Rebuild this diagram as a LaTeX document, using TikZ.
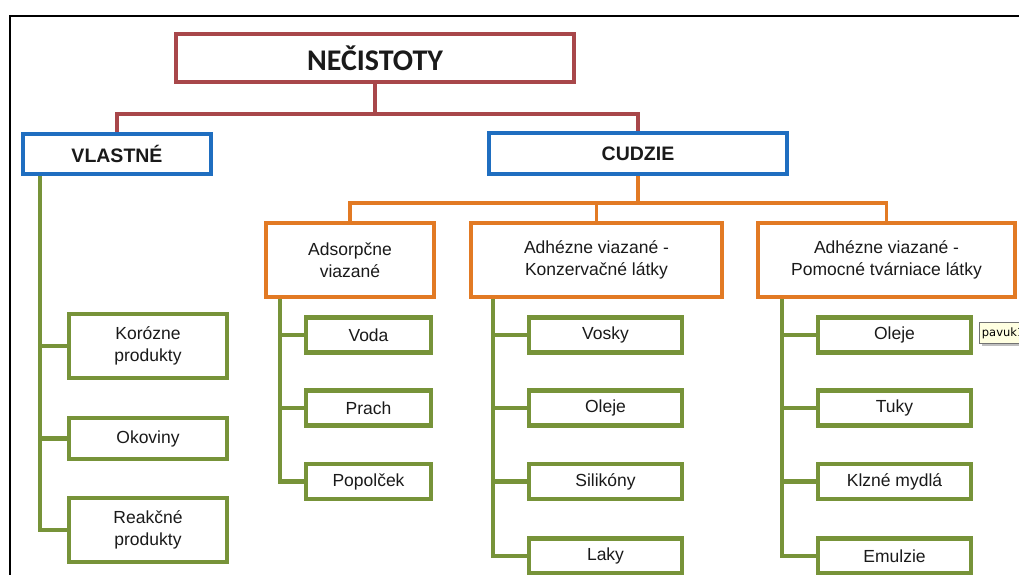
\documentclass[tikz,border=0pt]{standalone}
\usepackage{fontspec}
\usetikzlibrary{calc,backgrounds}
\setmainfont{Liberation Sans}
\newfontfamily\calibri{Carlito}
\newfontfamily\tipfont{DejaVu Sans}
\definecolor{cred}{HTML}{A8474A}
\definecolor{cblue}{HTML}{1F6EC0}
\definecolor{corange}{HTML}{E27A24}
\definecolor{cgreen}{HTML}{779339}
\definecolor{ctext}{HTML}{1A1A1A}
\definecolor{tipfill}{HTML}{FFFFE1}
\begin{document}
\begin{tikzpicture}[x=1pt,y=-1pt,
  basebox/.style={rectangle,fill=white,inner sep=0pt,align=center,text=ctext,font=\fontsize{17.5}{22}\selectfont},
  topbox/.style={basebox,draw=cred,line width=3.5pt,font=\calibri\bfseries\fontsize{30}{32}\selectfont},
  bluebox/.style={basebox,draw=cblue,line width=3.5pt,font=\bfseries\fontsize{19.5}{22}\selectfont},
  orbox/.style={basebox,draw=corange,line width=3.5pt},
  grbox/.style={basebox,draw=cgreen,line width=4.2pt},
  redline/.style={draw=cred,line width=3.5pt},
  orline/.style={draw=corange,line width=3.5pt},
  grline/.style={draw=cgreen,line width=4.2pt},
]
\useasboundingbox (0,0) rectangle (1019,574);
\clip (0,0) rectangle (1019,574);

% nodes
\node[topbox,minimum width=398pt,minimum height=48pt] (top) at (375,58) {NEČISTOTY};
\node[bluebox,minimum width=188pt,minimum height=40pt] (vl) at (117,154) {VLASTNÉ};
\node[bluebox,minimum width=298pt,minimum height=41pt] (cu) at (638,153.5) {CUDZIE};
\node[orbox,minimum width=168pt,minimum height=74pt] (ad) at (350,260) {Adsorpčne\\viazané};
\node[orbox,minimum width=251pt,minimum height=74pt] (ko) at (596.5,260) {Adhézne viazané -\\Konzervačné látky};
\node[orbox,minimum width=257pt,minimum height=74pt] (po) at (886.5,260) {Adhézne viazané -\\Pomocné tvárniace látky};

\node[grbox,minimum width=158pt,minimum height=64pt] (kor) at (148,346) {Korózne\\produkty};
\node[grbox,minimum width=158pt,minimum height=41pt] (oko) at (148,438.5) {Okoviny};
\node[grbox,minimum width=158pt,minimum height=64pt] (rea) at (148,530) {Reakčné\\produkty};

\node[grbox,minimum width=125pt,minimum height=35pt] (vod) at (368.5,335) {Voda};
\node[grbox,minimum width=125pt,minimum height=35pt] (pra) at (368.5,408) {Prach};
\node[grbox,minimum width=125pt,minimum height=35pt] (pop) at (368.5,481.5) {Popolček};

\node[grbox,minimum width=153pt,minimum height=35pt] (vos) at (605.5,335) {Vosky};
\node[grbox,minimum width=153pt,minimum height=35pt] (ole) at (605.5,408) {Oleje};
\node[grbox,minimum width=153pt,minimum height=35pt] (sil) at (605.5,481.5) {Silikóny};
\node[grbox,minimum width=153pt,minimum height=35pt] (lak) at (605.5,556) {Laky};

\node[grbox,minimum width=153pt,minimum height=35pt] (olb) at (894.5,335) {Oleje};
\node[grbox,minimum width=153pt,minimum height=35pt] (tuk) at (894.5,408) {Tuky};
\node[grbox,minimum width=153pt,minimum height=35pt] (klz) at (894.5,481.5) {Klzné mydlá};
\node[grbox,minimum width=153pt,minimum height=35pt] (emu) at (894.5,556) {Emulzie};

\begin{scope}[on background layer]
\fill[white] (0,0) rectangle (1019,574);
% frame
\draw[black,line width=2.8pt] (10,580) -- (10,16) -- (1030,16);

% red connectors
\coordinate (rj) at (375,114);
\draw[redline] (top.south) -- (rj);
\draw[redline] (vl.north) |- (rj) -| (cu.north);

% orange connectors
\coordinate (oj) at (638,203);
\draw[orline] (cu.south) -- (oj);
\draw[orline] (ad.north) |- (oj) -| (po.north);
\draw[orline] (ko.north) -- (ko.north |- oj);

% green connectors
\coordinate (vlb) at ($(vl.south west)+(19,0)$);
\draw[grline] (vlb) |- (rea.west);
\draw[grline] (vlb |- kor.west) -- (kor.west);
\draw[grline] (vlb |- oko.west) -- (oko.west);

\coordinate (adb) at ($(ad.south west)+(16,0)$);
\draw[grline] (adb) |- (pop.west);
\draw[grline] (adb |- vod.west) -- (vod.west);
\draw[grline] (adb |- pra.west) -- (pra.west);

\coordinate (kob) at ($(ko.south west)+(24,0)$);
\draw[grline] (kob) |- (lak.west);
\draw[grline] (kob |- vos.west) -- (vos.west);
\draw[grline] (kob |- ole.west) -- (ole.west);
\draw[grline] (kob |- sil.west) -- (sil.west);

\coordinate (pob) at ($(po.south west)+(26,0)$);
\draw[grline] (pob) |- (emu.west);
\draw[grline] (pob |- olb.west) -- (olb.west);
\draw[grline] (pob |- tuk.west) -- (tuk.west);
\draw[grline] (pob |- klz.west) -- (klz.west);
\end{scope}

% tooltip
\fill[black!25] (982,325) rectangle (1025,346);
\node[draw=black!55,fill=tipfill,line width=0.8pt,anchor=north west,inner xsep=2.5pt,inner ysep=3pt,minimum height=21pt,font=\tipfont\fontsize{11.5}{12}\selectfont] (tip) at (979,322) {pavuk1};
\end{tikzpicture}
\end{document}
